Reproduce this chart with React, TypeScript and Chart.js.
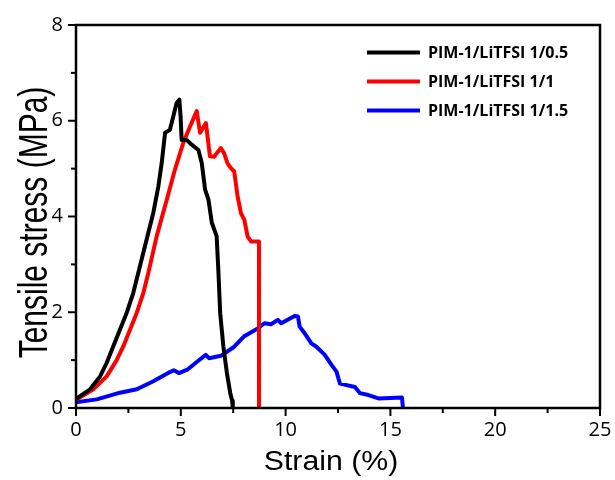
import React, { useEffect, useRef } from "react";
import { Chart, registerables } from "chart.js";

Chart.register(...registerables);

const seriesLabels = ["PIM-1/LiTFSI 1/0.5", "PIM-1/LiTFSI 1/1", "PIM-1/LiTFSI 1/1.5"];
const seriesColors = ["#000000", "#ff0000", "#0000ff"];
const xTitle = "Strain (%)";
const yTitle = "Tensile stress (MPa)";

const strainA = [0, 0.67, 1.15, 1.46, 1.78, 2.1, 2.42, 2.73, 2.97, 3.13, 3.37, 3.69, 3.93, 4.09, 4.25, 4.48, 4.64, 4.8, 4.93, 4.99, 5.04, 5.28, 5.52, 5.84, 6.0, 6.16, 6.32, 6.48, 6.71, 6.79, 6.88, 7.03, 7.2, 7.36, 7.45, 7.48];
const stressA = [0.19, 0.39, 0.66, 0.94, 1.29, 1.64, 1.99, 2.4, 2.82, 3.1, 3.52, 4.08, 4.63, 5.12, 5.75, 5.81, 6.09, 6.37, 6.44, 6.09, 5.6, 5.6, 5.5, 5.39, 5.12, 4.56, 4.35, 3.87, 3.59, 2.89, 1.98, 1.29, 0.73, 0.31, 0.15, 0];

const strainB = [0, 0.83, 1.46, 1.94, 2.26, 2.58, 2.9, 3.21, 3.45, 3.85, 4.33, 4.72, 5.12, 5.44, 5.76, 5.92, 6.2, 6.39, 6.59, 6.91, 7.07, 7.23, 7.39, 7.55, 7.71, 7.87, 8.03, 8.19, 8.35, 8.73, 8.73];
const stressB = [0.17, 0.39, 0.66, 1.0, 1.29, 1.64, 1.99, 2.4, 2.82, 3.59, 4.35, 4.98, 5.54, 5.88, 6.2, 5.75, 5.95, 5.26, 5.25, 5.43, 5.32, 5.11, 5.01, 4.94, 4.42, 4.07, 3.93, 3.58, 3.48, 3.48, 0];

const strainC = [0, 0.99, 2.1, 2.9, 3.69, 4.48, 4.67, 4.91, 5.31, 5.79, 6.19, 6.35, 6.91, 7.55, 8.03, 8.67, 8.99, 9.31, 9.63, 9.79, 10.43, 10.59, 10.67, 10.91, 11.23, 11.47, 11.87, 12.19, 12.43, 12.59, 13.31, 13.55, 13.95, 14.43, 15.55, 15.6];
const stressC = [0.12, 0.18, 0.32, 0.39, 0.56, 0.75, 0.79, 0.73, 0.8, 0.97, 1.11, 1.04, 1.09, 1.28, 1.5, 1.66, 1.77, 1.75, 1.84, 1.77, 1.92, 1.91, 1.7, 1.56, 1.35, 1.28, 1.11, 0.9, 0.76, 0.51, 0.44, 0.31, 0.27, 0.2, 0.22, 0];

const xMajorStep = 5;
const xMinorStep = 2.5;
const yMajorStep = 2;
const yMinorStep = 1;
const xMax = 25;
const yMax = 8;

const toPoints = (xs: number[], ys: number[]) => xs.map((x, i) => ({ x, y: ys[i] }));

const framePlugin = {
  id: "frameTicksLegend",
  afterDraw(chart: any) {
    const { ctx, chartArea } = chart;
    const xs = chart.scales.x;
    const ys = chart.scales.y;
    ctx.save();
    ctx.strokeStyle = "#000";
    ctx.lineWidth = 2.5;
    ctx.strokeRect(chartArea.left, chartArea.top, chartArea.right - chartArea.left, chartArea.bottom - chartArea.top);
    ctx.lineWidth = 2;
    for (let v = 0; v <= xMax + 1e-9; v += xMinorStep) {
      const major = Math.abs(v / xMajorStep - Math.round(v / xMajorStep)) < 1e-6;
      const px = xs.getPixelForValue(v);
      ctx.beginPath();
      ctx.moveTo(px, chartArea.bottom);
      ctx.lineTo(px, chartArea.bottom + (major ? 8 : 5));
      ctx.stroke();
    }
    for (let v = 0; v <= yMax + 1e-9; v += yMinorStep) {
      const major = Math.abs(v / yMajorStep - Math.round(v / yMajorStep)) < 1e-6;
      const py = ys.getPixelForValue(v);
      ctx.beginPath();
      ctx.moveTo(chartArea.left, py);
      ctx.lineTo(chartArea.left - (major ? 8 : 5), py);
      ctx.stroke();
    }
    // axis titles
    ctx.fillStyle = "#000";
    ctx.textAlign = "center";
    ctx.textBaseline = "alphabetic";
    ctx.save();
    ctx.translate((chartArea.left + chartArea.right) / 2 - 7, 469.5);
    ctx.scale(1.12, 1);
    ctx.font = "27px 'Liberation Sans'";
    ctx.fillText(xTitle, 0, 0);
    ctx.restore();
    ctx.save();
    ctx.translate(46.5, (chartArea.top + chartArea.bottom) / 2 + 6);
    ctx.rotate(-Math.PI / 2);
    ctx.scale(1, 1.35);
    ctx.font = "30px 'Liberation Sans'";
    ctx.fillText(yTitle, 0, 0);
    ctx.restore();
    // legend
    const lx0 = 367;
    const lx1 = 420;
    const ly0 = 52.5;
    const dy = 29;
    ctx.font = "bold 16px 'Open Sans'";
    ctx.textBaseline = "middle";
    ctx.textAlign = "left";
    chart.data.datasets.forEach((ds: any, i: number) => {
      const y = ly0 + i * dy;
      ctx.strokeStyle = ds.borderColor;
      ctx.lineWidth = 4;
      ctx.beginPath();
      ctx.moveTo(lx0, y);
      ctx.lineTo(lx1, y);
      ctx.stroke();
      ctx.fillStyle = "#000";
      ctx.fillText(ds.label, 428, y + 1);
    });
    ctx.restore();
  },
};

export default function App() {
  const ref = useRef<HTMLCanvasElement>(null);
  useEffect(() => {
    if (!ref.current) return;
    const chart = new Chart(ref.current, {
      type: "line",
      data: {
        datasets: [
          { label: seriesLabels[0], data: toPoints(strainA, stressA), borderColor: seriesColors[0] },
          { label: seriesLabels[1], data: toPoints(strainB, stressB), borderColor: seriesColors[1] },
          { label: seriesLabels[2], data: toPoints(strainC, stressC), borderColor: seriesColors[2] },
        ].map((d) => ({ ...d, borderWidth: 4, pointRadius: 0, tension: 0, fill: false, borderJoinStyle: "round" as const })),
      },
      options: {
        responsive: false,
        animation: false,
        layout: { padding: { left: 0, top: 25, right: 15, bottom: 0 } },
        plugins: { legend: { display: false }, tooltip: { enabled: false } },
        scales: {
          x: {
            type: "linear",
            min: 0,
            max: xMax,
            grid: { display: false, drawTicks: false },
            border: { display: false },
            ticks: { stepSize: xMajorStep, padding: 10, color: "#000", font: { family: "'Open Sans'", size: 20 } },
            title: { display: false, text: xTitle },
            afterFit: (s: any) => { s.height = 72; s.paddingLeft = 0; s.paddingRight = 0; },
          },
          y: {
            type: "linear",
            min: 0,
            max: yMax,
            grid: { display: false, drawTicks: false },
            border: { display: false },
            ticks: { stepSize: yMajorStep, padding: 13, color: "#000", font: { family: "'Open Sans'", size: 20 } },
            title: { display: false, text: yTitle },
            afterFit: (s: any) => { s.width = 76; s.paddingTop = 0; s.paddingBottom = 0; },
          },
        },
      },
      plugins: [framePlugin],
    });
    return () => chart.destroy();
  }, []);
  return (
    <div style={{ position: "absolute", left: 0, top: 0, width: 615, height: 480, background: "#fff" }}>
      <canvas ref={ref} width={615} height={480} />
    </div>
  );
}
